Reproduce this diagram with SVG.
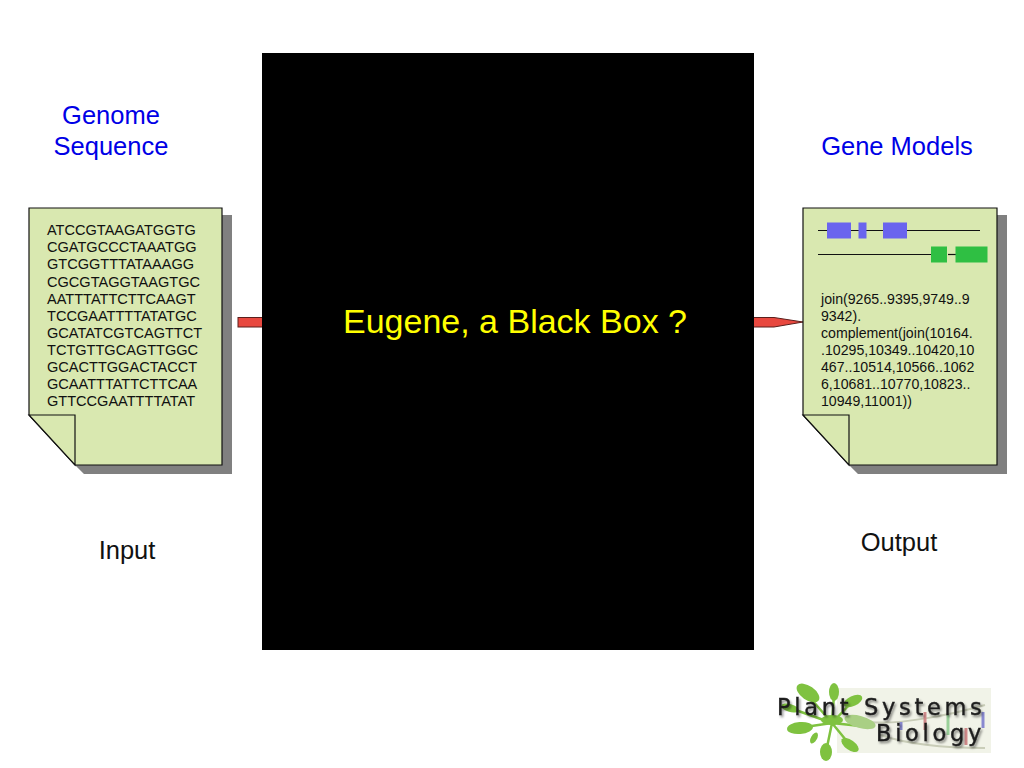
<svg xmlns="http://www.w3.org/2000/svg" width="1024" height="768" viewBox="0 0 1024 768">
<style>
text{font-family:"Liberation Sans",Arial,sans-serif}
.h{font-size:25.500px;fill:#0000e6}
.l{font-size:25.500px;fill:#111}
.d{font-size:14.550px;fill:#111}
.e{font-size:14.150px;fill:#111}
.shadow{fill:#808080}
.page{fill:#d9e8b0;stroke:#111;stroke-width:1.2}
.fold{fill:#d9e8b0;stroke:#111;stroke-width:1.2;stroke-linejoin:miter}
.arrow{fill:#e8483f;stroke:#5a1f1c;stroke-width:1}
.leaf{fill:#7fc241}
.p{font-size:22.500px;fill:#1c1c1c;font-family:"DejaVu Sans",sans-serif;letter-spacing:3.700px;stroke:#1c1c1c;stroke-width:.4;filter:url(#soft)}
</style>
<defs>
<filter id="soft" x="-10%" y="-30%" width="120%" height="170%"><feDropShadow dx="1.500" dy="2" stdDeviation="1.200" flood-color="#000" flood-opacity=".45"/></filter>
<filter id="blur"><feGaussianBlur stdDeviation=".7"/></filter>
</defs>
<rect width="1024" height="768" fill="#fff"/>
<g id="connectors">
<rect class="arrow" x="238" y="317.500" width="26" height="9.500"/>
<path class="arrow" d="M752 317.500H774L803 322L774 327H752Z"/>
</g>
<g id="black-box">
<rect x="262" y="53" width="492" height="597" fill="#000"/>
<text x="515" y="333" text-anchor="middle" font-size="34" fill="#ffff00">Eugene, a Black Box ?</text>
</g>
<g id="genome-title">
<text class="h" x="111" y="124" text-anchor="middle">Genome</text>
<text class="h" x="111" y="155" text-anchor="middle">Sequence</text>
</g>
<g id="input-doc">
<path class="shadow" d="M222 215H232V474H84L75 465H222Z"/>
<path class="page" d="M29 208H222V465H75L29 415Z"/>
<path class="fold" d="M29 415H75V465Z"/>
<text class="d" x="47" y="235">ATCCGTAAGATGGTG</text>
<text class="d" x="47" y="252">CGATGCCCTAAATGG</text>
<text class="d" x="47" y="269">GTCGGTTTATAAAGG</text>
<text class="d" x="47" y="287">CGCGTAGGTAAGTGC</text>
<text class="d" x="47" y="304">AATTTATTCTTCAAGT</text>
<text class="d" x="47" y="321">TCCGAATTTTATATGC</text>
<text class="d" x="47" y="338">GCATATCGTCAGTTCT</text>
<text class="d" x="47" y="355">TCTGTTGCAGTTGGC</text>
<text class="d" x="47" y="372">GCACTTGGACTACCT</text>
<text class="d" x="47" y="389">GCAATTTATTCTTCAA</text>
<text class="d" x="47" y="406">GTTCCGAATTTTATAT</text>
</g>
<g id="input-label"><text class="l" x="127" y="559" text-anchor="middle">Input</text></g>
<g id="models-title"><text class="h" x="897" y="155" text-anchor="middle">Gene Models</text></g>
<g id="output-doc">
<path class="shadow" d="M997 215H1007V474H858L849 465H997Z"/>
<path class="page" d="M803 208H997V465H849L803 415Z"/>
<path class="fold" d="M803 415H849V465Z"/>
<path d="M818 230.500H980M818 254.500H932" stroke="#111" stroke-width="1.200" fill="none"/>
<path d="M948 254.500H956" stroke="#111" stroke-width="1.200"/>
<g fill="#6a64ee">
<rect x="827" y="222.500" width="24" height="16"/>
<rect x="858.500" y="222.500" width="8" height="16"/>
<rect x="883" y="222.500" width="24" height="16"/>
</g>
<g fill="#2fbf43">
<rect x="931" y="246.500" width="16" height="16"/>
<rect x="955.500" y="246.500" width="32" height="16"/>
</g>
<text class="e" x="821" y="304">join(9265..9395,9749..9</text>
<text class="e" x="821" y="321">9342).</text>
<text class="e" x="821" y="338">complement(join(10164.</text>
<text class="e" x="821" y="355">.10295,10349..10420,10</text>
<text class="e" x="821" y="372">467..10514,10566..1062</text>
<text class="e" x="821" y="389">6,10681..10770,10823..</text>
<text class="e" x="821" y="406">10949,11001))</text>
</g>
<g id="output-label"><text class="l" x="899" y="551" text-anchor="middle">Output</text></g>
<g id="logo">
<rect x="837" y="688" width="154" height="65" fill="#f1f3e8"/>
<g stroke="#c9cdb8" stroke-width="2" fill="none" filter="url(#blur)"><path d="M870 722C900 725 950 715 985 705M880 735C910 745 950 748 985 748"/></g>
<g stroke-width="3" fill="none" filter="url(#blur)"><path d="M901 722V730" stroke="#8a8ad0"/><path d="M925 712V730" stroke="#d08a8a"/><path d="M948 715V735" stroke="#9ad09a"/><path d="M983 712V728" stroke="#8a8ad0"/><path d="M966 728V745" stroke="#d08a8a"/></g>
<g id="logo-plant" filter="url(#blur)">
<path d="M832 723L826 752M832 723L798 728M832 723L805 692M832 723L834 695M832 723L852 702M832 723L870 727M832 723L850 745M832 723L790 708" stroke="#7fc241" stroke-width="2.500" fill="none"/>
<ellipse class="leaf" cx="826" cy="752" rx="6" ry="9"/>
<ellipse class="leaf" cx="800" cy="728" rx="13" ry="6" transform="rotate(-5 800 728)"/>
<ellipse class="leaf" cx="808" cy="693" rx="13" ry="7" transform="rotate(35 808 693)"/>
<ellipse class="leaf" cx="834" cy="692" rx="5" ry="9"/>
<ellipse class="leaf" cx="853" cy="701" rx="10" ry="5" transform="rotate(-25 853 701)"/>
<ellipse class="leaf" cx="850" cy="745" rx="10" ry="5" transform="rotate(35 850 745)"/>
<ellipse class="leaf" cx="814" cy="738" rx="3" ry="6" transform="rotate(30 814 738)"/>
<ellipse class="leaf" cx="790" cy="708" rx="9" ry="4" transform="rotate(15 790 708)"/>
<ellipse cx="860" cy="722" rx="16" ry="6" fill="#a9cf84" transform="rotate(15 860 722)"/>
<ellipse class="leaf" cx="832" cy="720" rx="11" ry="5"/>
</g>
<text class="p" x="777" y="715">Plant</text>
<text class="p" x="864" y="715">Systems</text>
<text class="p" x="876" y="741">Biology</text>
</g>
</svg>
